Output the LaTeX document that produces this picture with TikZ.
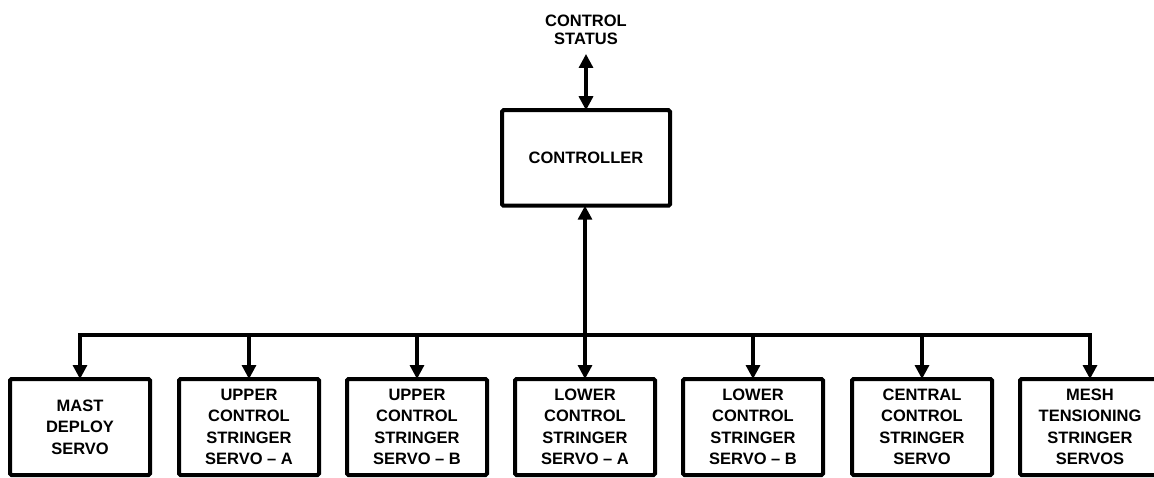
\documentclass[tikz,border=0pt]{standalone}
\usepackage{fontspec}
\setmainfont{Liberation Sans}
\usetikzlibrary{arrows.meta}
\begin{document}
\begin{tikzpicture}[x=1pt,y=-1pt,
  every node/.style={font=\bfseries\fontsize{16.5}{21.5}\selectfont},
  unitbox/.style={draw,line width=4pt,rounded corners=1.5pt,inner sep=0pt,outer sep=0pt,
    minimum width=140pt,minimum height=96pt,align=center},
  ctrlbox/.style={unitbox,minimum width=168pt,minimum height=95.5pt},
  link/.style={line width=3.2pt,-{Triangle[width=14pt,length=14pt]}},
  dlink/.style={line width=3.2pt,{Triangle[width=14pt,length=14pt]}-{Triangle[width=14pt,length=14pt]}}]
\useasboundingbox (0,0) rectangle (1154,478);

% controller and status line
\node[ctrlbox] (ctrl) at (586,158) {CONTROLLER};
\node[align=center,font=\bfseries\fontsize{16.5}{18.5}\selectfont] (status) at (586,30) {CONTROL\\STATUS};
\coordinate (statustip) at (586,54);
\draw[dlink] (statustip) -- (ctrl.north);

% servo units
\node[unitbox] (mast) at (80,427) {MAST\\DEPLOY\\SERVO};
\node[unitbox] (uca) at (249,427) {UPPER\\CONTROL\\STRINGER\\SERVO -- A};
\node[unitbox] (ucb) at (417,427) {UPPER\\CONTROL\\STRINGER\\SERVO -- B};
\node[unitbox] (lca) at (585,427) {LOWER\\CONTROL\\STRINGER\\SERVO -- A};
\node[unitbox] (lcb) at (753,427) {LOWER\\CONTROL\\STRINGER\\SERVO -- B};
\node[unitbox] (ccs) at (922,427) {CENTRAL\\CONTROL\\STRINGER\\SERVO};
\node[unitbox] (mts) at (1090,427) {MESH\\TENSIONING\\STRINGER\\SERVOS};

% distribution bus
\coordinate (busL) at (80,335);
\coordinate (busR) at (1090,335);
\draw[line width=3.2pt,line cap=rect] (busL) -- (busR);
\draw[dlink] (ctrl.south -| lca.north) -- (lca.north);
\foreach \u in {mast,uca,ucb,lcb,ccs,mts}
  \draw[link] (busL -| \u.north) -- (\u.north);
\end{tikzpicture}
\end{document}
